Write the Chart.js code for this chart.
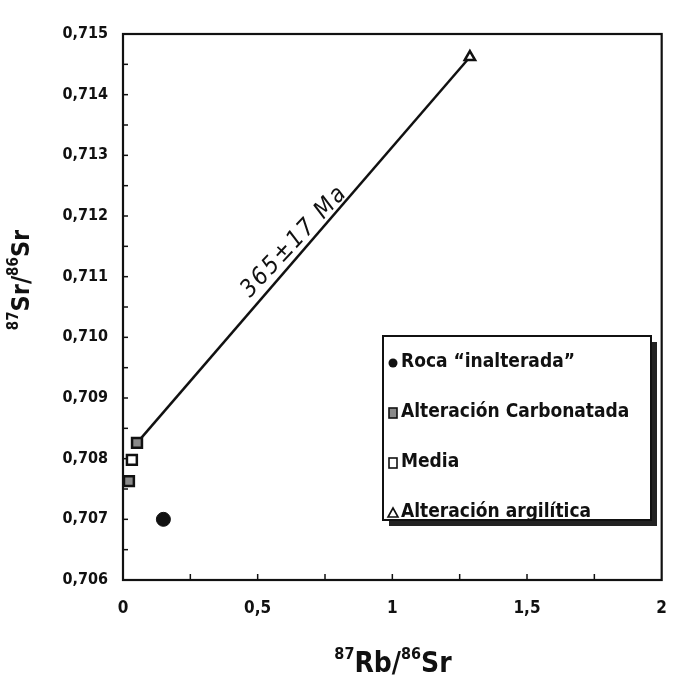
<!DOCTYPE html>
<html lang="es">
<head>
<meta charset="UTF-8" />
<title>Isocrona Rb-Sr</title>
<script src="https://cdn.jsdelivr.net/npm/chart.js"></script>
<style>
  html, body { margin: 0; padding: 0; background: #fff; }
  canvas { display: block; }
</style>
</head>
<body>
<canvas id="isochron" width="677" height="677"></canvas>
<script>
  // 87Rb/86Sr vs 87Sr/86Sr per sample group
  const rocaX = [0.15];
  const rocaY = [0.70700];
  const carbX = [0.052, 0.022];
  const carbY = [0.70826, 0.70763];
  const mediaX = [0.033];
  const mediaY = [0.70798];
  const argX = [1.288];
  const argY = [0.71462];
  // isochron drawn from the carbonate sample to the argillic sample
  const lineX = [carbX[0], argX[0]];
  const lineY = [carbY[0], argY[0]];
  const ageLabel = "365±17 Ma";
  const ageLabelAtX = 0.67;

  const xTicks = [0, 0.5, 1, 1.5, 2];
  const yTicks = [0.706, 0.707, 0.708, 0.709, 0.710, 0.711, 0.712, 0.713, 0.714, 0.715];

  const FONT = "'Liberation Sans Narrow', 'DejaVu Sans Condensed', 'Arial Narrow', sans-serif";
  const pts = (xs, ys) => xs.map((x, i) => ({ x: x, y: ys[i] }));
  const fmt = (v, d) => v.toFixed(d).replace(".", ",");

  // frame, inward ticks, age label, axis titles and boxed legend
  const decorations = {
    id: "decorations",
    afterDraw(chart) {
      const ctx = chart.ctx;
      const a = chart.chartArea;
      const xs = chart.scales.x, ys = chart.scales.y;
      ctx.save();
      ctx.strokeStyle = "#111";
      ctx.lineWidth = 2.2;
      ctx.strokeRect(a.left, a.top, a.right - a.left, a.bottom - a.top);

      // small inward tick marks
      ctx.lineWidth = 1.5;
      for (let v = 0.25; v < 2; v += 0.25) {
        const px = xs.getPixelForValue(v);
        ctx.beginPath(); ctx.moveTo(px, a.bottom); ctx.lineTo(px, a.bottom - 6); ctx.stroke();
      }
      for (let i = 1; i < 18; i++) {
        const py = ys.getPixelForValue(0.706 + i * 0.0005);
        ctx.beginPath(); ctx.moveTo(a.left, py); ctx.lineTo(a.left + 5, py); ctx.stroke();
      }

      // age label sitting just above the isochron
      const x0 = xs.getPixelForValue(lineX[0]), y0 = ys.getPixelForValue(lineY[0]);
      const x1 = xs.getPixelForValue(lineX[1]), y1 = ys.getPixelForValue(lineY[1]);
      const ang = Math.atan2(y1 - y0, x1 - x0);
      const t = (ageLabelAtX - lineX[0]) / (lineX[1] - lineX[0]);
      const lx = xs.getPixelForValue(ageLabelAtX);
      const ly = ys.getPixelForValue(lineY[0] + t * (lineY[1] - lineY[0]));
      ctx.translate(lx, ly);
      ctx.rotate(ang + 0.04);
      ctx.fillStyle = "#111";
      ctx.font = "italic 24px " + FONT;
      ctx.letterSpacing = "2px";
      ctx.textAlign = "center";
      ctx.textBaseline = "alphabetic";
      ctx.fillText(ageLabel, 0, -6);
      ctx.letterSpacing = "0px";
      ctx.setTransform(1, 0, 0, 1, 0, 0);

      // axis titles with superscripts
      function isotope(parts, x, y, big, small) {
        let w = 0;
        parts.forEach(p => { ctx.font = "bold " + (p.sup ? small : big) + "px " + FONT; w += ctx.measureText(p.t).width; });
        let cx = x - w / 2;
        parts.forEach(p => {
          ctx.font = "bold " + (p.sup ? small : big) + "px " + FONT;
          ctx.fillText(p.t, cx, p.sup ? y - big * 0.45 : y);
          cx += ctx.measureText(p.t).width;
        });
      }
      ctx.textAlign = "left";
      isotope([{ t: "87", sup: true }, { t: "Rb/", sup: false }, { t: "86", sup: true }, { t: "Sr", sup: false }],
        393, 672, 28, 16);
      ctx.translate(29, 280);
      ctx.rotate(-Math.PI / 2);
      isotope([{ t: "87", sup: true }, { t: "Sr/", sup: false }, { t: "86", sup: true }, { t: "Sr", sup: false }],
        0, 0, 25, 15);
      ctx.setTransform(1, 0, 0, 1, 0, 0);

      // legend box with drop shadow
      const bx = 383, by = 336, bw = 268, bh = 184;
      ctx.fillStyle = "#222";
      ctx.fillRect(bx + 6, by + 6, bw, bh);
      ctx.fillStyle = "#fff";
      ctx.fillRect(bx, by, bw, bh);
      ctx.lineWidth = 2;
      ctx.strokeStyle = "#111";
      ctx.strokeRect(bx, by, bw, bh);
      const rows = [362, 412, 462, 512];
      ctx.font = "bold 19px " + FONT;
      ctx.textBaseline = "middle";
      chart.data.datasets.slice(0, 4).forEach((ds, i) => {
        const mx = 393, my = rows[i] + 1;
        ctx.lineWidth = 1.6;
        ctx.strokeStyle = "#111";
        if (ds.pointStyle === "circle") {
          ctx.fillStyle = "#111";
          ctx.beginPath(); ctx.arc(mx, my, 4.5, 0, Math.PI * 2); ctx.fill();
        } else if (ds.pointStyle === "rect") {
          ctx.fillStyle = ds.backgroundColor;
          ctx.fillRect(mx - 4, my - 5, 8, 10);
          ctx.strokeRect(mx - 4, my - 5, 8, 10);
        } else {
          ctx.beginPath(); ctx.moveTo(mx, my - 5); ctx.lineTo(mx + 5, my + 4); ctx.lineTo(mx - 5, my + 4); ctx.closePath(); ctx.stroke();
        }
        ctx.fillStyle = "#111";
        ctx.fillText(ds.label, 401, rows[i]);
      });
      ctx.restore();
    }
  };

  new Chart(document.getElementById("isochron"), {
    type: "scatter",
    data: {
      datasets: [
        { label: "Roca \u201Cinalterada\u201D", data: pts(rocaX, rocaY), pointStyle: "circle",
          pointRadius: 7, backgroundColor: "#111", borderColor: "#111" },
        { label: "Alteración Carbonatada", data: pts(carbX, carbY), pointStyle: "rect",
          pointRadius: 7, backgroundColor: "#8a8a8a", borderColor: "#111", borderWidth: 2.5 },
        { label: "Media", data: pts(mediaX, mediaY), pointStyle: "rect",
          pointRadius: 7, backgroundColor: "#fff", borderColor: "#111", borderWidth: 2.5 },
        { label: "Alteración argilítica", data: pts(argX, argY), pointStyle: "triangle",
          pointRadius: 6, backgroundColor: "#fff", borderColor: "#111", borderWidth: 2.5 },
        { label: "isocrona", type: "line", data: pts(lineX, lineY), showLine: true,
          borderColor: "#111", borderWidth: 2.5, pointRadius: 0, fill: false, order: 5 }
      ]
    },
    options: {
      responsive: false,
      animation: false,
      layout: { padding: { left: 0, top: 34, right: 9, bottom: 0 } },
      plugins: { legend: { display: false }, tooltip: { enabled: false } },
      scales: {
        x: {
          type: "linear", min: 0, max: 2,
          afterBuildTicks: s => { s.ticks = xTicks.map(v => ({ value: v })); },
          afterFit: s => { s.height = 97; },
          grid: { display: false },
          border: { display: false },
          ticks: { padding: 10, color: "#111", font: { family: FONT, size: 17, weight: "bold" },
                   callback: v => (Number.isInteger(v) ? String(v) : fmt(v, 1)) }
        },
        y: {
          type: "linear", min: 0.706, max: 0.715,
          afterBuildTicks: s => { s.ticks = yTicks.map(v => ({ value: v })); },
          afterFit: s => { s.width = 123; },
          grid: { display: false },
          border: { display: false },
          ticks: { padding: 7, color: "#111", font: { family: FONT, size: 16, weight: "bold" },
                   callback: v => fmt(v, 3) }
        }
      }
    },
    plugins: [decorations]
  });
</script>
</body>
</html>
